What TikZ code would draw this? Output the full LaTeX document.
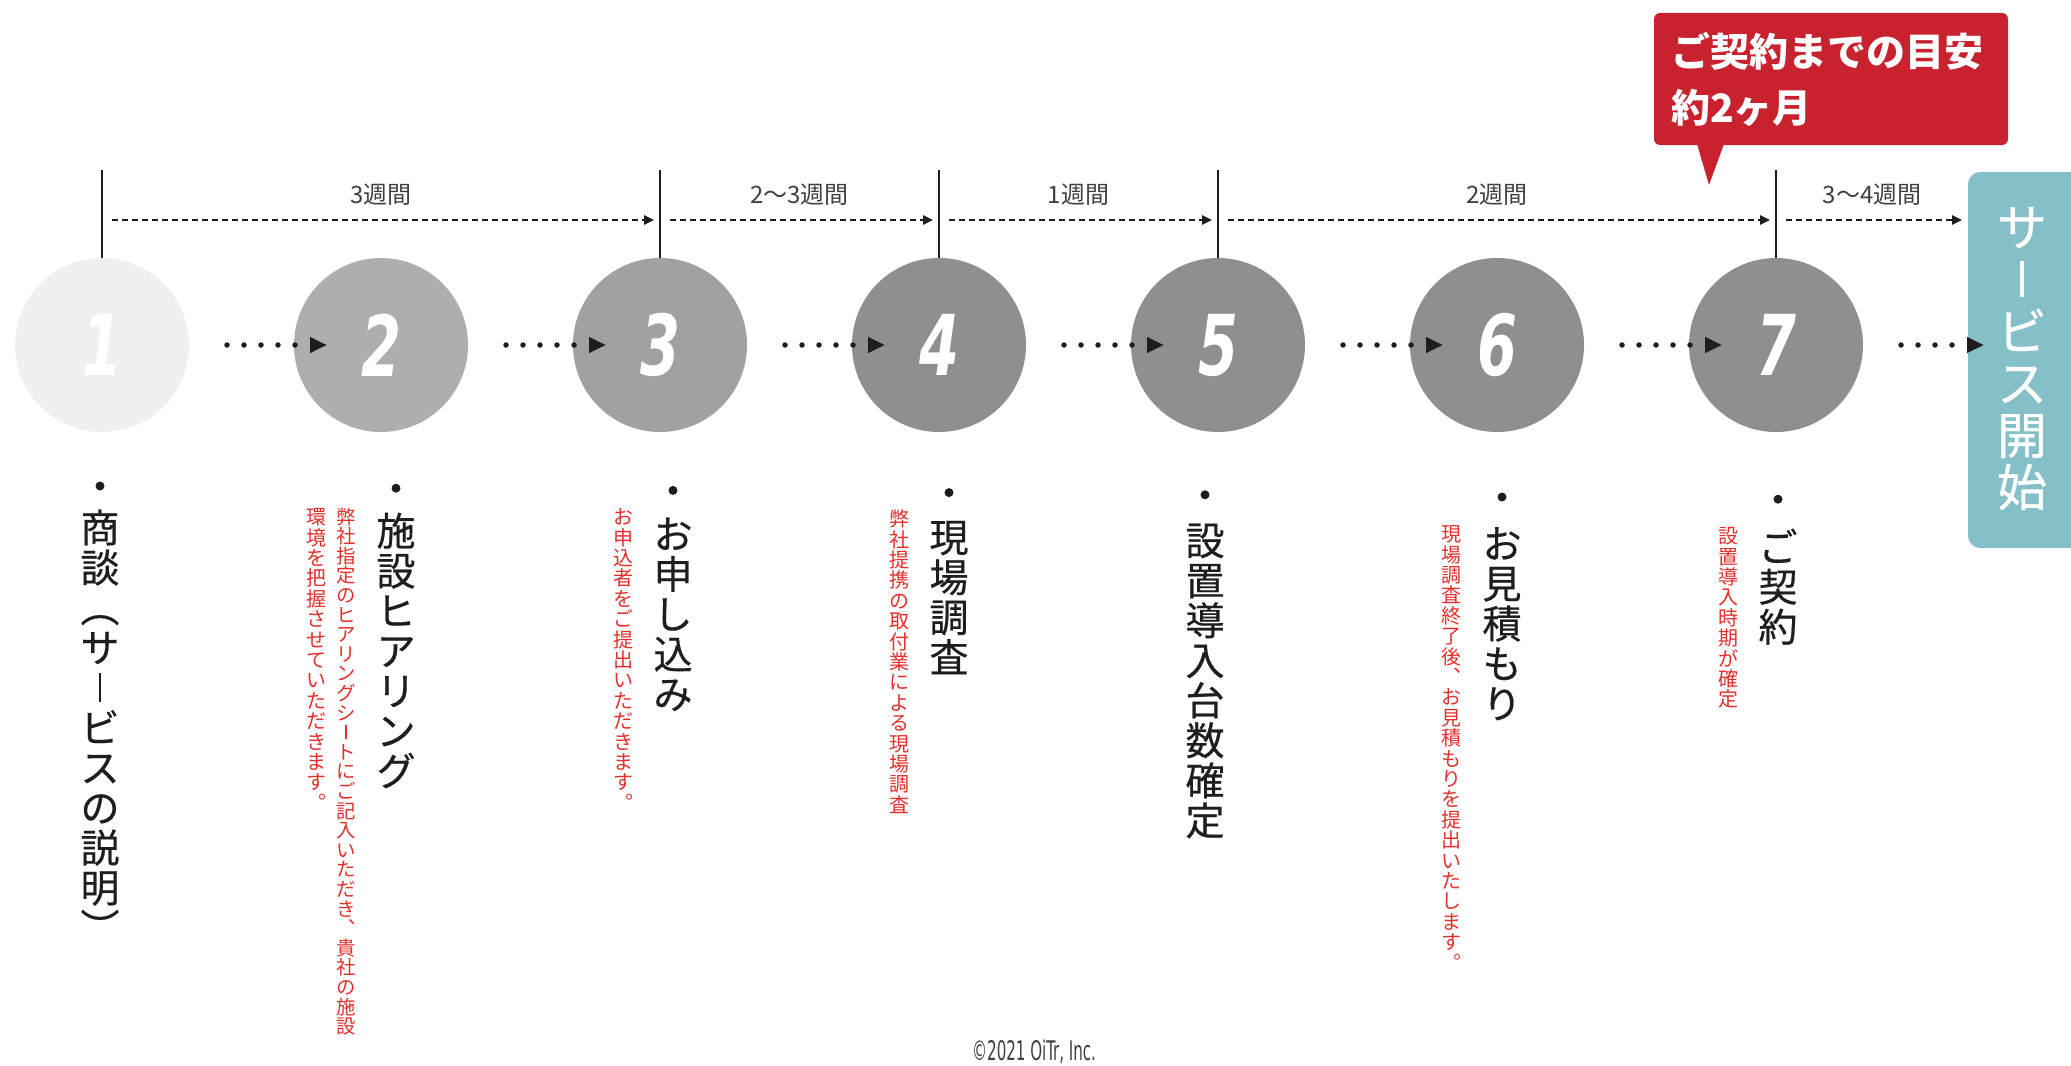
\documentclass[tikz,border=0pt]{standalone}
\usepackage{fontspec}
\usetikzlibrary{arrows.meta,positioning,calc}
\newfontfamily\jpfont{Noto Sans CJK JP}
\newfontfamily\jpmed{Noto Sans CJK JP}[FakeBold=0.5]
\newfontfamily\numfont{DejaVu Sans Condensed}
\definecolor{cRed}{HTML}{C8222F}
\definecolor{cTeal}{HTML}{85C0C9}
\definecolor{cNote}{HTML}{E2302B}
\definecolor{cInk}{HTML}{1E1E1E}
\definecolor{cStepA}{HTML}{F0F0EE}
\definecolor{cStepB}{HTML}{ADAFAA}
\definecolor{cStepC}{HTML}{A0A29D}
\definecolor{cStepD}{HTML}{8F908C}
% vertical text: one em cell per character, top to bottom
\newlength\vgap
\newcommand\vstack[1]{\vbox{\offinterlineskip\vstackA#1\relax}}
\def\vstackA#1{\ifx\relax#1\else
  \hbox to 1em{\vrule height .88em depth .12em width 0pt\hss#1\hss}\kern\vgap
  \expandafter\vstackA\fi}
\newcommand\vbar{\rule[.02em]{.075em}{.72em}} % long vowel mark, upright

\begin{document}
\begin{tikzpicture}[x=1pt,y=-1pt,every node/.style={outer sep=0pt},
  stepcirc/.style={circle,minimum size=174pt,inner sep=0pt,text=white,
    font=\numfont\bfseries\itshape\fontsize{84}{84}\selectfont},
  tickline/.style={line width=1.4pt,cInk},
  weekarrow/.style={line width=2.4pt,cInk,dash pattern=on 6pt off 4pt,
    shorten <=10pt,shorten >=6pt,-{Triangle[length=10pt,width=9pt]}},
  weeklabel/.style={font=\jpfont\fontsize{24}{24}\selectfont,text=cInk!85},
  flowarrow/.style={line width=5.5pt,cInk,line cap=round,dash pattern=on 0pt off 17pt,
    -{Triangle[length=17pt,width=15pt]}},
  bulletdot/.style={circle,fill=cInk,minimum size=9pt,inner sep=0pt},
  vtitle/.style={anchor=north,inner sep=0pt,text=cInk,
    font={\jpmed\fontsize{39}{39}\selectfont\setlength\vgap{1pt}}},
  vnote/.style={anchor=north,inner sep=0pt,text=cNote,
    font={\jpfont\fontsize{20}{20}\selectfont\setlength\vgap{0.4pt}}}]
\useasboundingbox (0,0) rectangle (2071,1065);

% step circles: index/x/fill
\foreach \i/\x/\col in {1/102/cStepA,2/381/cStepB,3/660/cStepC,4/939/cStepD,
                        5/1218/cStepD,6/1497/cStepD,7/1776/cStepD}
  \node[stepcirc,fill=\col] (c\i) at (\x,345) {\scalebox{0.76}[1]{\i}};

% service start box (runs off the right edge)
\node[fill=cTeal,rounded corners=12pt,minimum width=150pt,minimum height=376pt,
      anchor=north west,inner sep=0pt] (svc) at (1968,172) {};
\node[anchor=north,inner sep=0pt,text=white,
      font={\jpmed\fontsize{50}{50}\selectfont\setlength\vgap{2pt}}]
  (svctxt) at (2022,202) {\vstack{サ\vbar ビス開始}};

% ticks above the circles
\foreach \i in {1,3,4,5,7}{
  \coordinate (t\i) at ([yshift=88pt]c\i.north);
  \draw[tickline] (t\i) -- (c\i.north);
}

% durations
\foreach \a/\b/\txt in {1/3/3週間,3/4/2〜3週間,4/5/1週間,5/7/2週間}
  \draw[weekarrow] ([yshift=-50pt]t\a) -- ([yshift=-50pt]t\b)
    node[midway,above=11pt,weeklabel] {\txt};
\coordinate (w7) at ([yshift=-50pt]t7);
\draw[weekarrow] (w7) -- (w7 -| svc.west)
  node[midway,above=11pt,weeklabel] {3〜4週間};

% dotted flow arrows
\foreach \a/\b in {1/2,2/3,3/4,4/5,5/6,6/7}
  \draw[flowarrow] ([xshift=38pt]c\a.east) -- ([xshift=33pt]c\b.west);
\coordinate (f7) at (c7.east -| svc.west);
\draw[flowarrow] ([xshift=38pt]c7.east) -- ([xshift=16pt]f7);

% callout
\node[fill=cRed,rounded corners=6pt,minimum width=354pt,minimum height=132pt,
      text width=320pt,inner xsep=17pt,align=left,text=white,anchor=north west,
      font=\jpfont\bfseries\fontsize{39}{56}\selectfont] (goal) at (1654,13)
  {ご契約までの目安\\約2ヶ月};
\fill[cRed] ([xshift=43pt,yshift=1pt]goal.south west)
  -- ([xshift=70pt,yshift=1pt]goal.south west)
  -- ([xshift=55pt,yshift=-40pt]goal.south west) -- cycle;

% step titles
\foreach \i/\x/\ttl in {1/100/商談︵サ\vbar ビスの説明︶,2/396/施設ヒアリング,3/673/お申し込み,
                        4/949/現場調査,5/1205/設置導入台数確定,6/1502/お見積もり,7/1778/ご契約}{
  \pgfmathsetmacro\yb{486+2.2*(\i-1)}
  \pgfmathsetmacro\yt{508+3.2*(\i-1)}
  \node[bulletdot] (b\i) at (\x,\yb) {};
  \node[vtitle] (n\i) at (\x,\yt) {\expandafter\vstack\expandafter{\ttl}};
}

% notes
\node[vnote,font={\jpfont\fontsize{19.4}{19.4}\selectfont\setlength\vgap{0.2pt}}]
  (d2a) at (346,507) {\vstack{弊社指定のヒアリングシ\vbar トにご記入いただき︑貴社の施設}};
\node[vnote] (d2b) at (316,507) {\vstack{環境を把握させていただきます︒}};
\node[vnote] (d3) at (623,507) {\vstack{お申込者をご提出いただきます︒}};
\node[vnote] (d4) at (899,509) {\vstack{弊社提携の取付業による現場調査}};
\node[vnote] (d6) at (1451,524) {\vstack{現場調査終了後︑お見積もりを提出いたします︒}};
\node[vnote] (d7) at (1728,526) {\vstack{設置導入時期が確定}};

\node[anchor=north,inner sep=0pt,text=cInk!85,font=\numfont\fontsize{27}{27}\selectfont]
  (copy) at (1034,1040) {\scalebox{0.62}[1]{©2021 OiTr, Inc.}};
\end{tikzpicture}
\end{document}
